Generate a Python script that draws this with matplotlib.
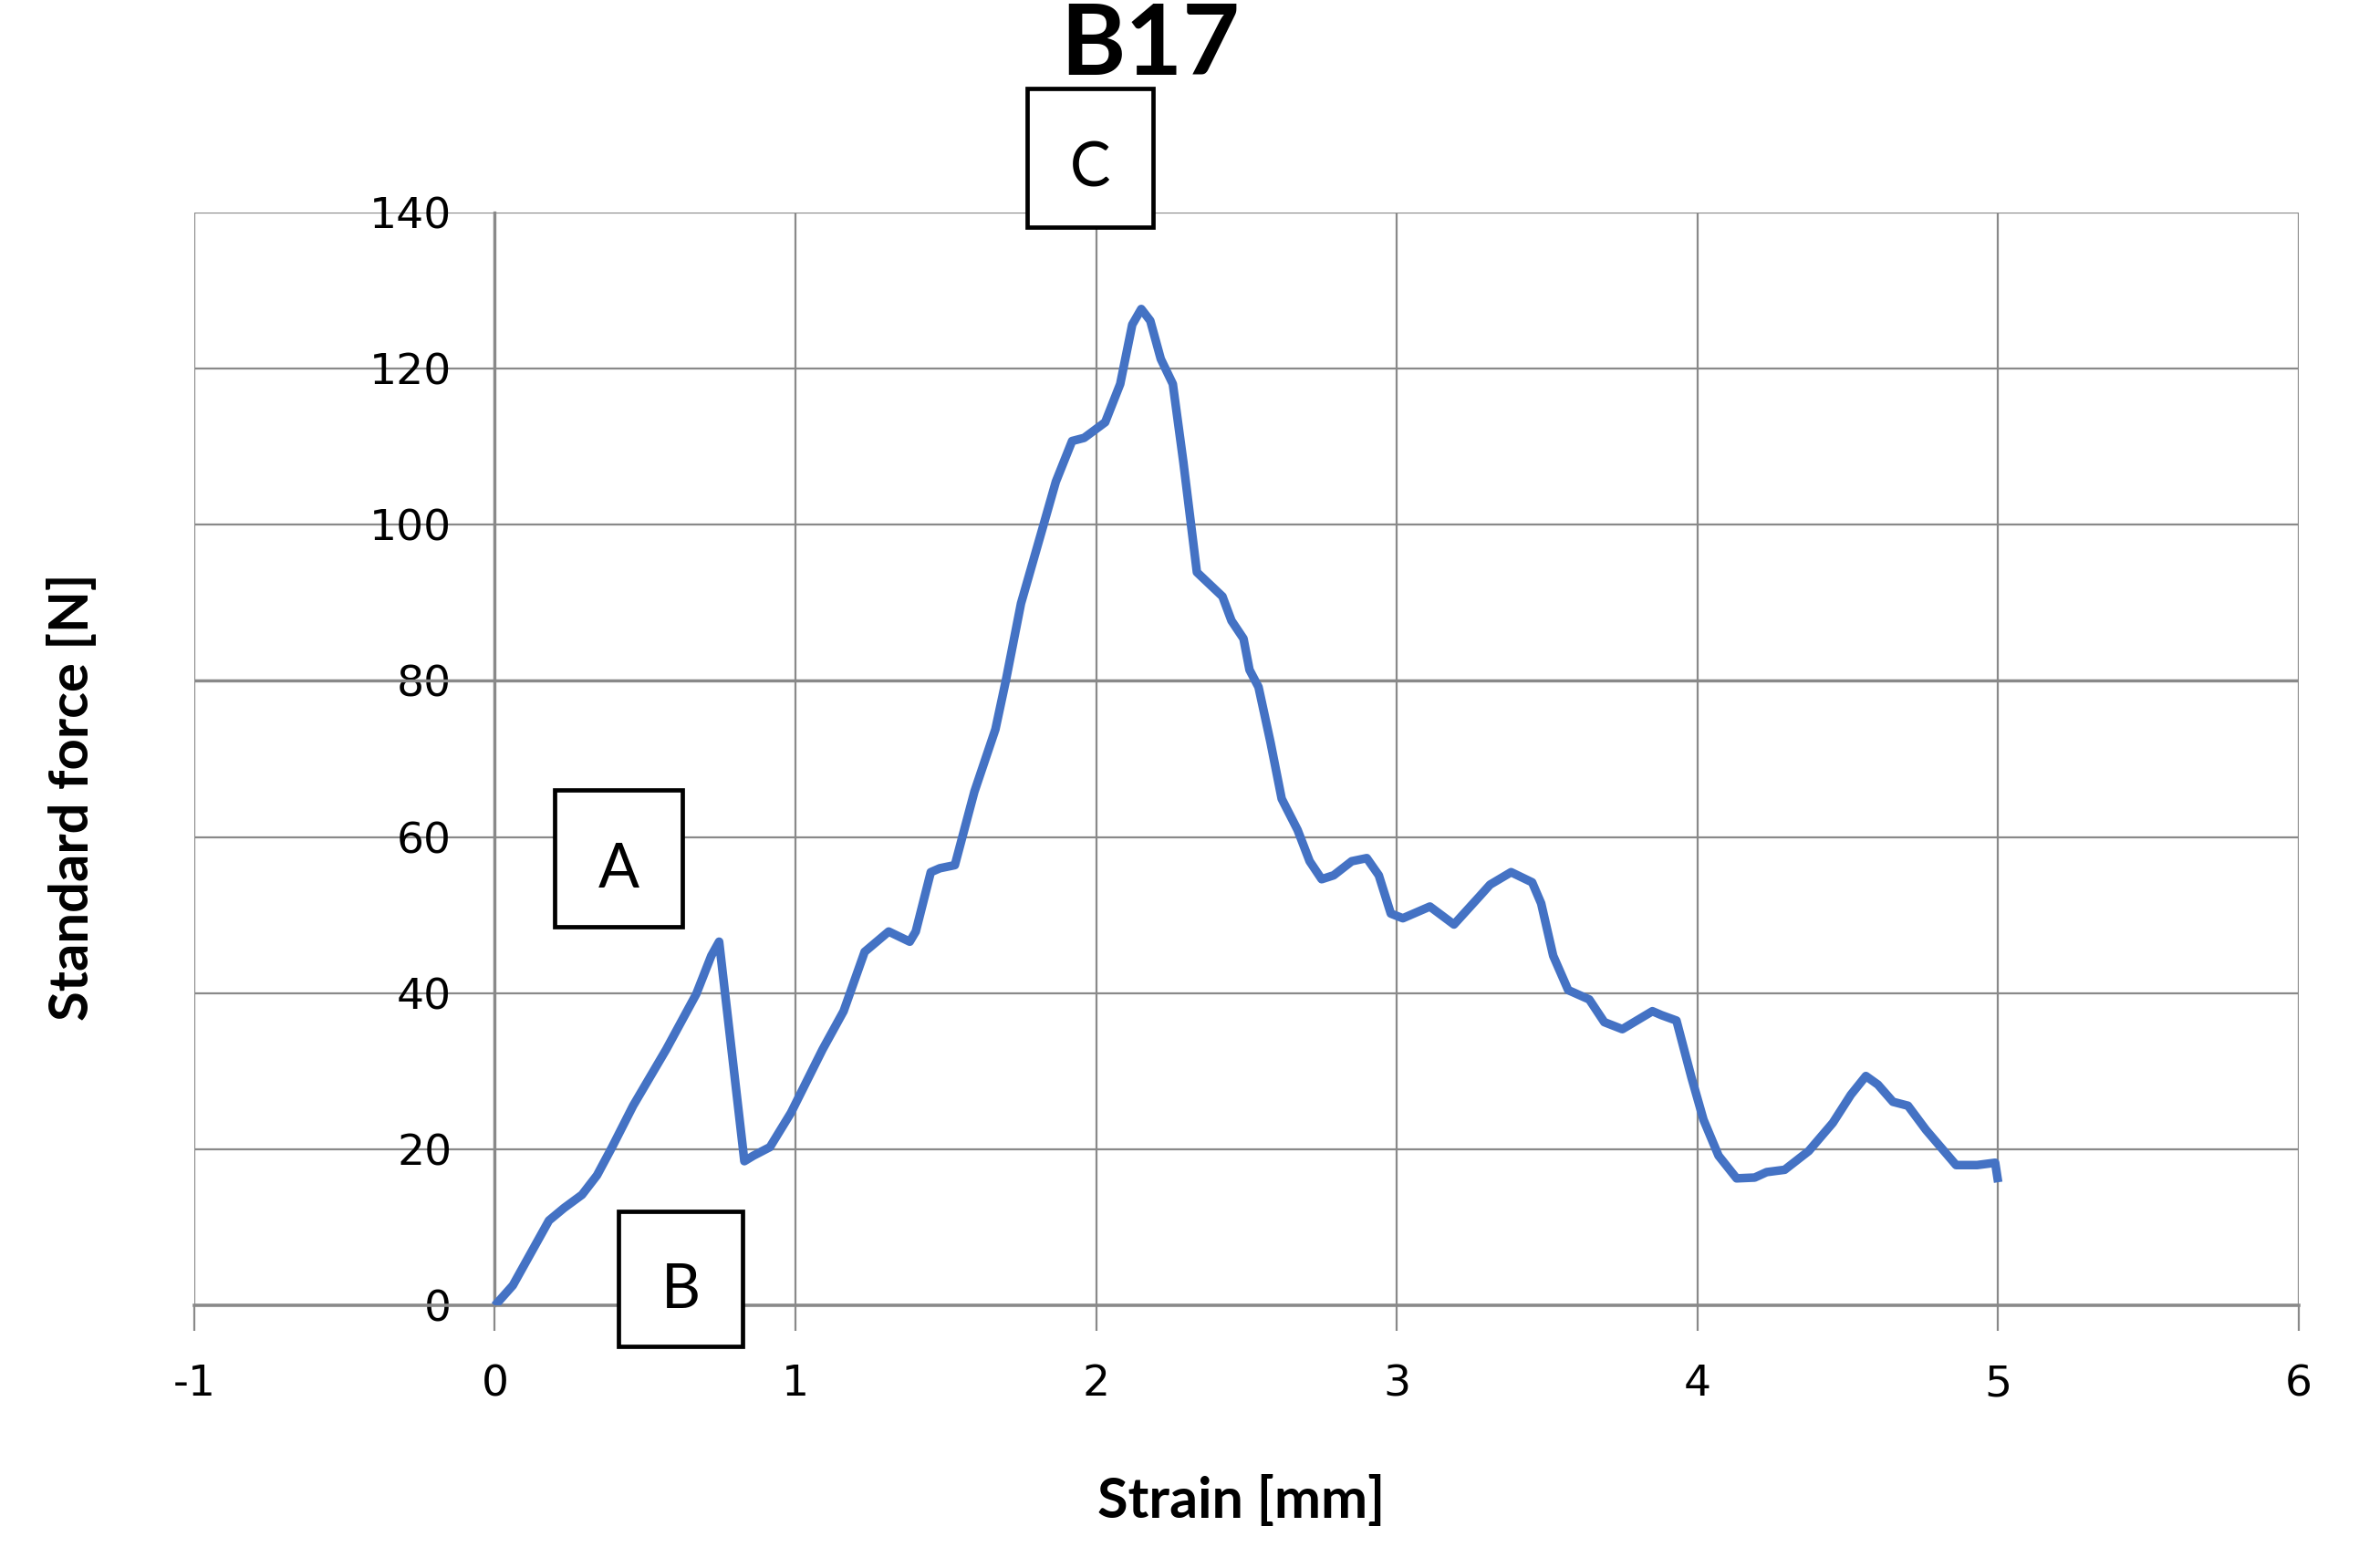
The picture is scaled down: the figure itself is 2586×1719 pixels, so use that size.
import matplotlib
matplotlib.use("Agg")
import matplotlib.pyplot as plt
from matplotlib.patches import Rectangle

plt.rcParams["axes.unicode_minus"] = False

# strain [mm] / standard force [N]
strain = [0, 0.06, 0.18, 0.23, 0.29, 0.34, 0.39, 0.46, 0.57, 0.67,
          0.72, 0.746, 0.83, 0.86, 0.915, 0.985, 1.09, 1.16, 1.23, 1.31,
          1.38, 1.40, 1.45, 1.48, 1.53, 1.595, 1.665, 1.70, 1.75, 1.82,
          1.866, 1.92, 1.96, 2.03, 2.08, 2.12, 2.15, 2.18, 2.215, 2.255,
          2.29, 2.335, 2.42, 2.45, 2.49, 2.51, 2.54, 2.58, 2.617, 2.67,
          2.71, 2.75, 2.79, 2.85, 2.90, 2.94, 2.98, 3.02, 3.11, 3.19,
          3.275, 3.31, 3.38, 3.45, 3.48, 3.52, 3.57, 3.64, 3.69, 3.75,
          3.85, 3.88, 3.93, 3.98, 4.02, 4.07, 4.13, 4.19, 4.23, 4.29,
          4.37, 4.45, 4.51, 4.56, 4.60, 4.65, 4.70, 4.76, 4.82, 4.86,
          4.93, 4.99, 5.0]
force = [0, 2.6, 10.9, 12.5, 14.2, 16.7, 20.3, 25.6, 32.8, 39.9,
         44.8, 46.6, 18.5, 19.2, 20.3, 24.7, 32.8, 37.7, 45.3, 47.9,
         46.6, 47.9, 55.5, 56.0, 56.4, 65.8, 73.8, 80.1, 89.9, 99.3,
         105.5, 110.7, 111.1, 113.1, 118.0, 125.6, 127.6, 126.1, 121.2, 118.0,
         108.0, 93.9, 90.8, 87.7, 85.4, 81.4, 79.2, 72.1, 64.9, 60.9,
         56.9, 54.6, 55.1, 56.9, 57.3, 55.1, 50.2, 49.6, 51.1, 48.8,
         52.4, 53.9, 55.5, 54.2, 51.5, 44.8, 40.4, 39.2, 36.3, 35.4,
         37.7, 37.2, 36.5, 29.2, 23.8, 19.2, 16.3, 16.4, 17.1, 17.4,
         19.8, 23.4, 27.0, 29.4, 28.3, 26.1, 25.6, 22.5, 19.8, 18.0,
         18.0, 18.3, 15.8]

x_ticks = [-1, 0, 1, 2, 3, 4, 5, 6]
y_ticks = [0, 20, 40, 60, 80, 100, 120, 140]

grid_col = "#898989"

fig = plt.figure(figsize=(25.86, 17.19), dpi=100)
ax = fig.add_axes([0.0823, 0.1673, 0.8922, 0.6974])

ax.plot(strain, force, color="#4472C4", lw=6.8, solid_joinstyle="round",
        solid_capstyle="butt", zorder=4)

ax.set_xlim(-1, 6)
ax.set_ylim(0, 140)
ax.set_xticks(x_ticks)
ax.set_yticks(y_ticks)
ax.grid(True, color=grid_col, lw=1.6)
ax.set_axisbelow(True)

for s in ["top", "right"]:
    ax.spines[s].set_visible(False)
ax.spines["left"].set_position(("data", 0))
ax.spines["left"].set_color(grid_col)
ax.spines["left"].set_linewidth(2.4)
ax.spines["bottom"].set_color(grid_col)
ax.spines["bottom"].set_linewidth(2.6)
ax.axhline(80, color=grid_col, lw=2.4, zorder=1)

ax.tick_params(axis="y", length=0, pad=34, labelsize=34)
ax.tick_params(axis="x", length=20, width=1.6, color=grid_col, pad=26, labelsize=34)
for lab in ax.get_xticklabels() + ax.get_yticklabels():
    lab.set_family("DejaVu Sans")

# labelled boxes
boxes = [("A", 0.20, 48.5, 0.425, 17.5),
         ("B", 0.41, -5.2, 0.415, 17.3),
         ("C", 1.77, 138.1, 0.42, 17.7)]
for letter, bx, by, bw, bh in boxes:
    ax.add_patch(Rectangle((bx, by), bw, bh, facecolor="white", edgecolor="black",
                           lw=3.4, clip_on=False, zorder=6))
    ax.text(bx + bw / 2, by + bh / 2 - 1.5, letter, ha="center", va="center",
            fontsize=48, family="Lato", zorder=7, clip_on=False)

fig.text(0.4877, 0.9705, "B17", ha="center", va="center", fontsize=78,
         fontweight="bold", family="Lato")
fig.text(0.0306, 0.4916, "Standard force [N]", rotation=90, ha="center",
         va="center", fontsize=43, fontweight="bold", family="Lato")
fig.text(0.526, 0.0425, "Strain [mm]", ha="center", va="center", fontsize=44,
         fontweight="bold", family="Lato")

fig.savefig("out.png", dpi=100, facecolor="white")
